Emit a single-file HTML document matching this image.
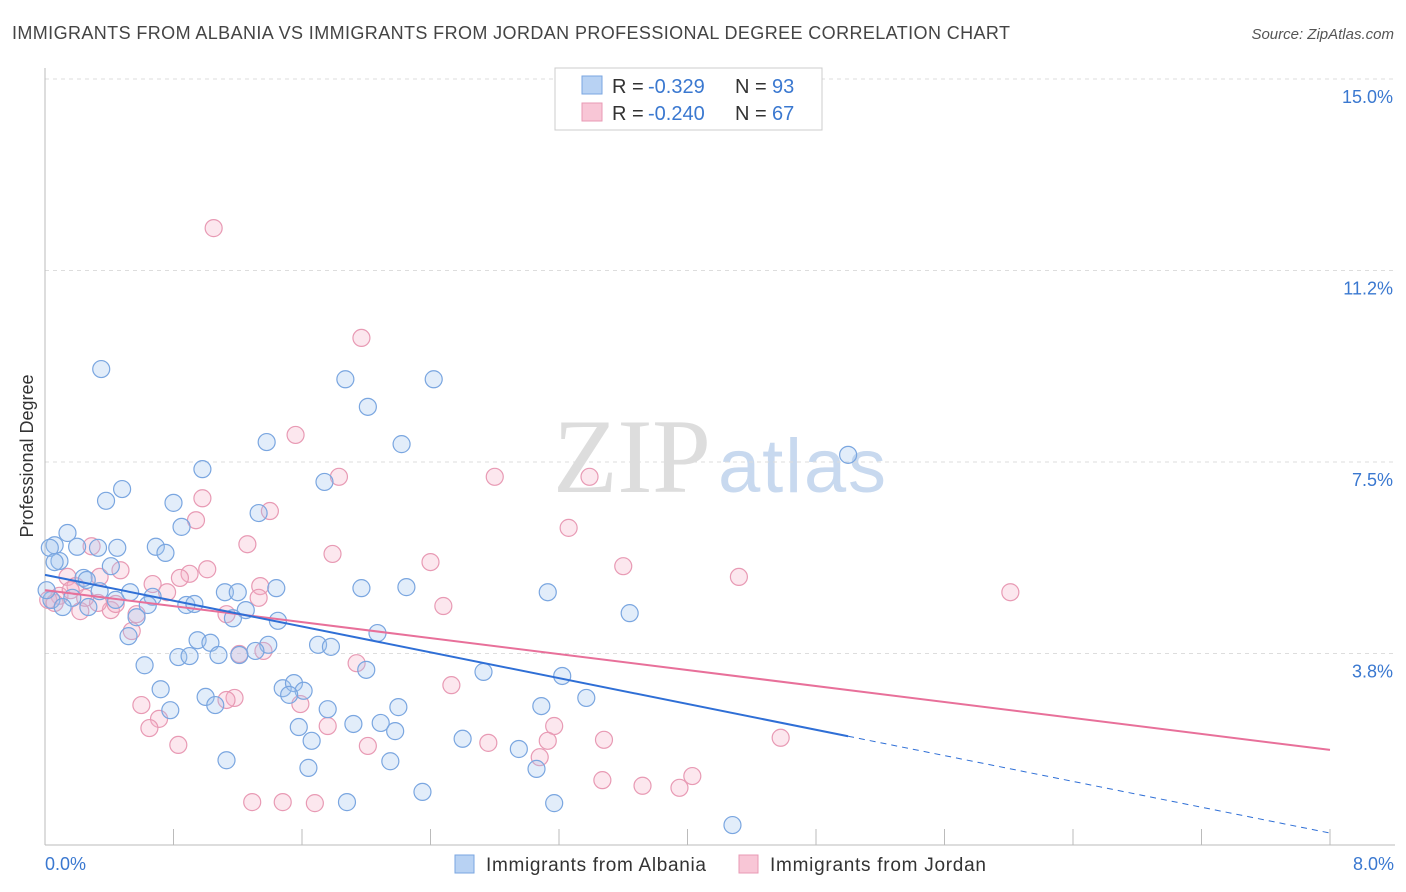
<!DOCTYPE html>
<html><head><meta charset="utf-8"><style>
body{margin:0;background:#fff;font-family:"Liberation Sans",sans-serif;}
#wrap{position:relative;width:1406px;height:892px;overflow:hidden;}
</style></head><body>
<div id="wrap">
<svg id="chart" width="1406" height="892" xmlns="http://www.w3.org/2000/svg">
<text x="12" y="39" font-size="18" fill="#444" textLength="998" lengthAdjust="spacing">IMMIGRANTS FROM ALBANIA VS IMMIGRANTS FROM JORDAN PROFESSIONAL DEGREE CORRELATION CHART</text>
<text x="1394" y="39" font-size="15" fill="#555" text-anchor="end" font-style="italic">Source: ZipAtlas.com</text>
<g>
<text x="553" y="492" font-size="106" fill="#ddd" font-family="Liberation Serif,serif" textLength="158">ZIP</text>
<text x="718" y="492" font-size="76" fill="#c8d9ef" textLength="168">atlas</text>
</g>
<g id="grid"></g>
<g id="marks"></g>
<text transform="translate(33,456) rotate(-90)" font-size="18" fill="#333" text-anchor="middle">Professional Degree</text>
<text x="45" y="870" font-size="18" fill="#3a78d0">0.0%</text>
<text x="1394" y="870" font-size="18" fill="#3a78d0" text-anchor="end">8.0%</text>
<g>
<rect x="555" y="68" width="267" height="62" fill="#fff" stroke="#ccc"/>
<rect x="582" y="76" width="20" height="18" fill="#b8d2f3" stroke="#7aa6e0"/>
<rect x="582" y="103" width="20" height="18" fill="#f8c6d6" stroke="#e89ab4"/>
<text x="612" y="93" font-size="20" fill="#333">R =</text>
<text x="648" y="93" font-size="20" fill="#3a78d0">-0.329</text>
<text x="735" y="93" font-size="20" fill="#333">N =</text>
<text x="772" y="93" font-size="20" fill="#3a78d0">93</text>
<text x="612" y="120" font-size="20" fill="#333">R =</text>
<text x="648" y="120" font-size="20" fill="#3a78d0">-0.240</text>
<text x="735" y="120" font-size="20" fill="#333">N =</text>
<text x="772" y="120" font-size="20" fill="#3a78d0">67</text>
</g>
<g>
<rect x="455" y="855" width="19" height="18" fill="#b8d2f3" stroke="#7aa6e0"/>
<text x="486" y="871" font-size="19" fill="#333" textLength="220">Immigrants from Albania</text>
<rect x="739" y="855" width="19" height="18" fill="#f8c6d6" stroke="#e89ab4"/>
<text x="770" y="871" font-size="19" fill="#333" textLength="216">Immigrants from Jordan</text>
</g>
</svg>
</div>
<script>
const yTicks=[3.75,7.5,11.25,15];
const yTickLabels=["3.8%","7.5%","11.2%","15.0%"];
const xTicks=[0,0.8,1.6,2.4,3.2,4.0,4.8,5.6,6.4,7.2,8.0];
const albaniaX=[0.35,1.87,2.42,2.01,1.38,2.22,5.00,0.98,1.74,0.48,0.38,0.80,1.33,0.85,0.14,0.06,0.20,0.33,0.45,0.69,0.75,0.09,0.41,0.24,0.26,1.44,1.97,2.25,3.13,0.53,0.67,1.12,1.20,0.64,0.27,0.88,0.93,0.44,1.25,1.17,1.45,3.64,0.57,2.07,0.52,0.95,1.03,1.39,1.21,1.31,1.70,1.78,0.83,0.90,1.08,0.62,2.00,2.73,3.22,0.72,1.48,1.55,1.61,1.00,1.06,1.52,3.37,0.78,1.76,2.20,3.09,1.58,1.92,2.09,2.18,1.66,2.60,2.95,1.13,2.15,1.64,3.06,2.35,1.88,3.17,4.28,0.03,0.06,0.04,0.17,0.34,0.01,0.11];
const albaniaY=[9.32,9.12,9.12,8.58,7.89,7.85,7.64,7.36,7.11,6.97,6.74,6.70,6.50,6.23,6.11,5.87,5.84,5.82,5.82,5.84,5.72,5.56,5.46,5.23,5.19,5.03,5.03,5.05,4.95,4.95,4.86,4.95,4.95,4.70,4.66,4.70,4.72,4.80,4.60,4.44,4.39,4.54,4.46,4.15,4.09,4.01,3.96,3.92,3.72,3.80,3.92,3.88,3.68,3.70,3.72,3.52,3.43,3.39,3.31,3.05,3.07,3.17,3.02,2.90,2.74,2.94,2.88,2.64,2.66,2.70,2.72,2.31,2.37,2.39,2.23,2.04,2.08,1.88,1.66,1.64,1.51,1.49,1.04,0.84,0.82,0.39,5.82,5.54,4.80,4.84,4.97,4.99,4.66];
const jordanX=[1.05,1.97,1.56,2.80,1.83,3.39,0.98,0.94,1.40,3.26,1.26,0.29,1.79,2.40,3.60,4.32,6.01,1.01,0.90,0.84,0.67,0.47,0.14,0.19,1.34,0.76,1.33,2.48,0.41,0.57,1.13,0.22,0.33,0.44,1.36,1.21,0.54,1.94,2.53,1.18,1.13,1.59,0.60,0.71,1.76,0.65,3.17,0.83,2.01,2.76,3.13,3.48,4.58,3.08,4.03,3.47,3.72,3.95,1.29,1.48,1.68,0.09,0.02,0.06,0.16,0.34,0.25];
const jordanY=[12.08,9.93,8.03,7.21,7.21,7.21,6.79,6.36,6.54,6.21,5.89,5.85,5.70,5.54,5.46,5.25,4.95,5.40,5.31,5.23,5.11,5.38,5.25,5.07,5.07,4.95,4.84,4.68,4.60,4.52,4.52,4.58,4.74,4.72,3.80,3.74,4.19,3.56,3.13,2.88,2.84,2.76,2.74,2.47,2.33,2.29,2.33,1.96,1.94,2.00,2.04,2.06,2.10,1.72,1.35,1.27,1.16,1.12,0.84,0.84,0.82,4.88,4.80,4.74,4.99,5.25,4.84];
const albaniaTrend=[5.29,-0.632]; // intercept, slope
const albaniaTrendEnd=[5.0,8.0]; // solid end, dashed end (x)
const jordanTrend=[4.99,-0.391];

const X0=45,X1=1330,YB=845,YT=79;
const xs=v=>X0+(v/8)*(X1-X0);
const ys=v=>YB-(v/15)*(YB-YT);
const NS="http://www.w3.org/2000/svg";
function mk(tag,attrs,parent){const e=document.createElementNS(NS,tag);for(const k in attrs)e.setAttribute(k,attrs[k]);parent.appendChild(e);return e;}
const grid=document.getElementById('grid'),marks=document.getElementById('marks');
yTicks.forEach((t,i)=>{
  const l=mk('line',{x1:X0,x2:1395,y1:ys(t),y2:ys(t),stroke:'#ddd','stroke-dasharray':'4,4'},grid);
  
  
  const tx=mk('text',{x:1393,y:ys(t)+24,'font-size':18,fill:'#3a78d0','text-anchor':'end'},grid);
  tx.textContent=yTickLabels[i];
  
  
});
const ax=mk('line',{x1:X0,x2:X0,y1:68,y2:YB,stroke:'#bbb'},grid);


const bx=mk('line',{x1:X0,x2:1395,y1:YB,y2:YB,stroke:'#bbb'},grid);


xTicks.forEach(t=>{
  const l=mk('line',{x1:xs(t),x2:xs(t),y1:YB-16,y2:YB,stroke:'#bbb'},grid);
  
  
});
function dots(X,Y,fill,stroke,name){
  X.forEach((x,i)=>{
    const c=mk('circle',{cx:xs(x),cy:ys(Y[i]),r:8.5,fill:fill,stroke:stroke,'stroke-width':1.2},marks);
    
    
  });
}
dots(jordanX,jordanY,'rgba(245,175,200,0.3)','#e89ab4','jordan-point');
dots(albaniaX,albaniaY,'rgba(160,196,240,0.3)','#7aa6e0','albania-point');
const ty=(t,x)=>t[0]+t[1]*x;
const pl=mk('line',{x1:xs(0),y1:ys(ty(jordanTrend,0)),x2:xs(8),y2:ys(ty(jordanTrend,8)),stroke:'#e8709a','stroke-width':2},marks);


const bl=mk('line',{x1:xs(0),y1:ys(ty(albaniaTrend,0)),x2:xs(albaniaTrendEnd[0]),y2:ys(ty(albaniaTrend,albaniaTrendEnd[0])),stroke:'#2f6fd6','stroke-width':2},marks);


const bd=mk('line',{x1:xs(albaniaTrendEnd[0]),y1:ys(ty(albaniaTrend,albaniaTrendEnd[0])),x2:xs(albaniaTrendEnd[1]),y2:ys(ty(albaniaTrend,albaniaTrendEnd[1])),stroke:'#2f6fd6','stroke-width':1,'stroke-dasharray':'6,5'},marks);


</script>
</body></html>
